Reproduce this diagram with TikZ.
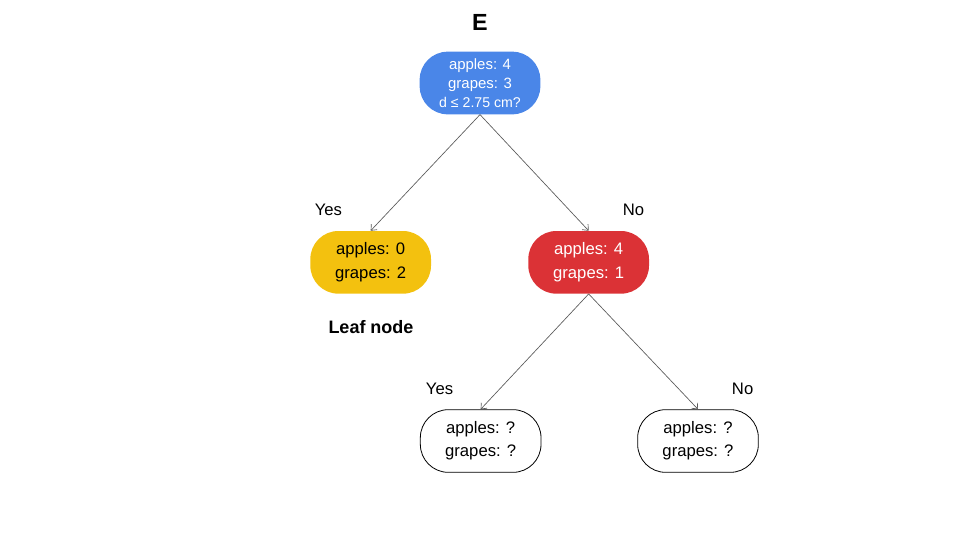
\documentclass[tikz,border=0pt]{standalone}
\usepackage{fontspec}
\setmainfont{Liberation Sans}
\usetikzlibrary{arrows.meta,positioning}

\definecolor{nodeblue}{HTML}{4A86E8}
\definecolor{nodeyellow}{HTML}{F3C10F}
\definecolor{nodered}{HTML}{DB3236}
\definecolor{edgegray}{HTML}{595959}

\begin{document}
\begin{tikzpicture}[x=0.75pt,y=-0.75pt,->,>={Straight Barb[length=3.5pt,width=6pt]},on grid,
                    every edge/.style={draw=edgegray,line width=0.5pt}]
  \tikzset{split/.style={rectangle,rounded corners=21pt,minimum width=90.5pt,
             minimum height=47pt,align=center,inner sep=0pt,
             font=\fontsize{12.5}{17.5}\selectfont},
           lbl/.style={font=\fontsize{12.5}{14}\selectfont,inner sep=0pt}}
  \useasboundingbox (0,0) rectangle (960,540);

  \node at (480,22) (title) {\fontsize{17.5}{20}\selectfont\bfseries E};
  \node[split,fill=nodeblue,text=white,font=\fontsize{11.2}{14}\selectfont]
        at (480,83) (root) {apples: 4\\grapes: 3\\{\fontsize{10.6}{14}\selectfont d ≤ 2.75 cm?}};
  \node[split,fill=nodeyellow] (leaf) [below left=134.5pt and 82pt of root]  {apples: 0\\grapes: 2};
  \node[split,fill=nodered,text=white] (mid) [below right=134.5pt and 81.5pt of root] {apples: 4\\grapes: 1};
  \node[split,draw=black,line width=0.6pt] (yes) [below left=134pt and 81pt of mid]  {apples: ?\\grapes: ?};
  \node[split,draw=black,line width=0.6pt] (no)  [below right=134pt and 82pt of mid] {apples: ?\\grapes: ?};
  \node[font=\fontsize{13.5}{16}\selectfont\bfseries] at (371,327) (leaflbl) {Leaf node};

  \path (root.south) edge node[lbl,pos=.82,left=36pt]  {Yes} (leaf.north)
                     edge node[lbl,pos=.82,right=40pt] {No}  (mid.north)
        (mid.south)  edge node[lbl,pos=.82,left=35pt]  {Yes} (yes.north)
                     edge node[lbl,pos=.82,right=40pt] {No}  (no.north);
\end{tikzpicture}
\end{document}
